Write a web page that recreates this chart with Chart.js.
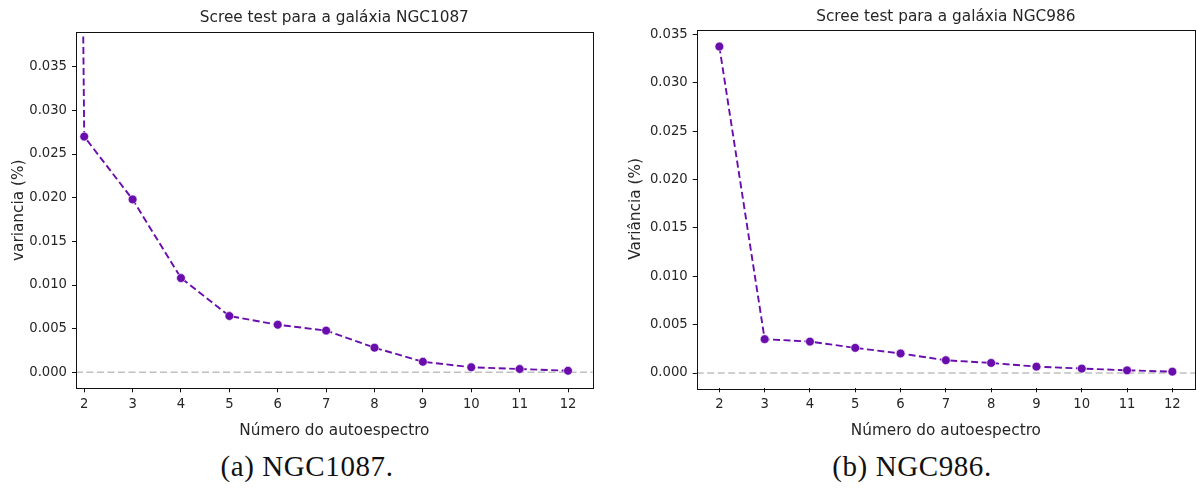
<!DOCTYPE html>
<html>
<head>
<meta charset="utf-8">
<script src="https://cdn.jsdelivr.net/npm/chart.js@4/dist/chart.umd.min.js"></script>
<style>
    html, body { margin: 0; padding: 0; background: #fff; overflow: hidden; }
    #page { position: relative; width: 1197px; height: 491px; overflow: hidden; }
    .panel { position: absolute; top: 0; height: 440px; }
    .caption {
        position: absolute; width: 300px; text-align: center;
        font-family: "Liberation Serif", serif; font-size: 29px; line-height: 29px;
        letter-spacing: 0.6px; color: #111;
    }
</style>
</head>
<body>
<div id="page">
    <div class="panel" style="left:0;width:600px"><canvas id="ngc1087Chart"></canvas></div>
    <div class="panel" style="left:600px;width:600px"><canvas id="ngc986Chart"></canvas></div>
    <div class="caption" style="left:157px;top:452px">(a) NGC1087.</div>
    <div class="caption" style="left:762px;top:452px">(b) NGC986.</div>
</div>
<script>
// autoespectro index and explained variance for each galaxy
const ngc1087Components = [1, 2, 3, 4, 5, 6, 7, 8, 9, 10, 11, 12];
const ngc1087Variance = [0.6, 0.0270, 0.0198, 0.0108, 0.00645, 0.00545, 0.00478, 0.00282, 0.00121, 0.00058, 0.00038, 0.00018];

const ngc986Components = [2, 3, 4, 5, 6, 7, 8, 9, 10, 11, 12];
const ngc986Variance = [0.03376, 0.00350, 0.00325, 0.00260, 0.00202, 0.00132, 0.00104, 0.00066, 0.00046, 0.00028, 0.00014];

const xTickValues = [2, 3, 4, 5, 6, 7, 8, 9, 10, 11, 12];
const yTickValues = [0, 0.005, 0.010, 0.015, 0.020, 0.025, 0.030, 0.035];

const lineColor = '#6a0dad';
const textColor = '#262626';
const sansFont = 'DejaVu Sans';

// box around the plot area, like matplotlib spines
const frameBox = {
    id: 'frameBox',
    afterDraw(chart) {
        const {ctx, chartArea: a} = chart;
        ctx.save();
        ctx.strokeStyle = '#111';
        ctx.lineWidth = 1;
        ctx.strokeRect(Math.round(a.left) + 0.5, Math.round(a.top) + 0.5,
            Math.round(a.right - a.left), Math.round(a.bottom - a.top));
        ctx.restore();
    }
};

// dashed grey reference line at zero variance
const zeroLine = {
    id: 'zeroLine',
    beforeDatasetsDraw(chart) {
        const {ctx, chartArea: a, scales} = chart;
        const y = scales.y.getPixelForValue(0);
        ctx.save();
        ctx.strokeStyle = '#c0c0c0';
        ctx.lineWidth = 1.6;
        ctx.setLineDash([7, 3.5]);
        ctx.beginPath();
        ctx.moveTo(a.left, y);
        ctx.lineTo(a.right, y);
        ctx.stroke();
        ctx.restore();
    }
};

function buildScree(canvasId, cfg) {
    const points = cfg.components.map((c, i) => ({x: c, y: cfg.variance[i]}));
    return new Chart(document.getElementById(canvasId), {
        type: 'line',
        data: {
            datasets: [{
                data: points,
                borderColor: lineColor,
                borderWidth: 1.9,
                borderDash: [7, 3.5],
                pointBackgroundColor: lineColor,
                pointBorderColor: '#ffffff',
                pointBorderWidth: 0.6,
                pointRadius: 4.4,
                tension: 0
            }]
        },
        options: {
            responsive: false,
            animation: false,
            events: [],
            layout: {padding: {left: 0, right: cfg.padRight, top: 0, bottom: 0}},
            plugins: {
                legend: {display: false},
                tooltip: {enabled: false},
                title: {
                    display: true,
                    text: cfg.title,
                    fullSize: false,
                    color: textColor,
                    font: {family: sansFont, size: 15.3, weight: 'normal'},
                    padding: cfg.titlePadding
                }
            },
            scales: {
                x: {
                    type: 'linear',
                    min: cfg.xMin,
                    max: cfg.xMax,
                    afterBuildTicks: scale => { scale.ticks = xTickValues.map(v => ({value: v})); },
                    afterFit: scale => { scale.height = 51.7; },
                    border: {display: false},
                    grid: {drawOnChartArea: false, drawTicks: true, tickLength: 4, tickColor: '#111'},
                    ticks: {color: textColor, padding: 4, maxRotation: 0, autoSkip: false,
                        font: {family: sansFont, size: 13.2}, callback: v => String(v)},
                    title: {display: true, text: 'Número do autoespectro', color: textColor,
                        font: {family: sansFont, size: 15.3}, padding: {top: 9.3, bottom: 0}}
                },
                y: {
                    min: cfg.yMin,
                    max: cfg.yMax,
                    afterBuildTicks: scale => { scale.ticks = yTickValues.map(v => ({value: v})); },
                    afterFit: scale => { scale.width = cfg.yAxisWidth; },
                    border: {display: false},
                    grid: {drawOnChartArea: false, drawTicks: true, tickLength: 4, tickColor: '#111'},
                    ticks: {color: textColor, padding: 5, autoSkip: false,
                        font: {family: sansFont, size: 13.2}, callback: v => v.toFixed(3)},
                    title: {display: true, text: cfg.yLabel, color: textColor,
                        font: {family: sansFont, size: 15.3}, padding: {top: cfg.yTitleOffset, bottom: 0}}
                }
            }
        },
        plugins: [zeroLine, frameBox]
    });
}

document.addEventListener('DOMContentLoaded', () => {
    for (const id of ['ngc1087Chart', 'ngc986Chart']) {
        const c = document.getElementById(id);
        c.width = 600;
        c.height = 440;
    }
    buildScree('ngc1087Chart', {
        components: ngc1087Components,
        variance: ngc1087Variance,
        title: 'Scree test para a galáxia NGC1087',
        yLabel: 'variancia (%)',
        xMin: 1.83, xMax: 12.51,
        yMin: -0.00183, yMax: 0.03894,
        yAxisWidth: 76,
        yTitleOffset: 9.5,
        padRight: 7.3,
        titlePadding: {top: 9.3, bottom: 4.64}
    });
    buildScree('ngc986Chart', {
        components: ngc986Components,
        variance: ngc986Variance,
        title: 'Scree test para a galáxia NGC986',
        yLabel: 'Variância (%)',
        xMin: 1.5, xMax: 12.5,
        yMin: -0.00158, yMax: 0.03552,
        yAxisWidth: 96.7,
        yTitleOffset: 27.3,
        padRight: 2.2,
        titlePadding: {top: 8, bottom: 3.14}
    });
});
</script>
</body>
</html>
